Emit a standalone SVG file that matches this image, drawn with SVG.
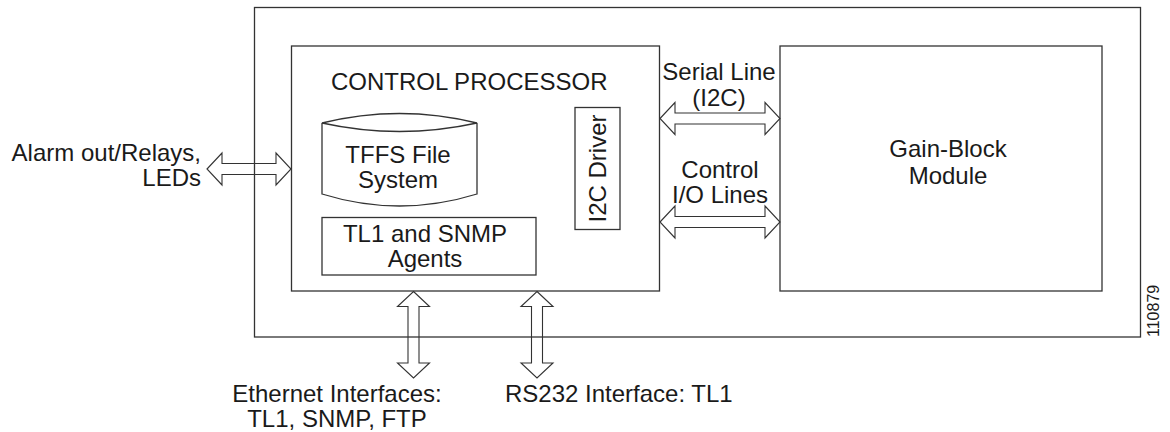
<svg xmlns="http://www.w3.org/2000/svg" width="1170" height="432" viewBox="0 0 1170 432">
<style>
.box{fill:none;stroke:#333;stroke-width:1.3}
.arr{fill:none;stroke:#333;stroke-width:1.1;stroke-linejoin:miter}
.t{font-family:"Liberation Sans",Arial,Helvetica,sans-serif;font-size:24px;fill:#1a1a1a}
.m{text-anchor:middle}
.e{text-anchor:end}
</style>
<rect width="1170" height="432" fill="#fff"/>
<g id="chassis"><rect class="box" x="254.5" y="7.5" width="886" height="329.5"/></g>
<g id="control-processor">
<rect class="box" x="291.5" y="46" width="368" height="245"/>
<text class="t" x="331" y="90">CONTROL PROCESSOR</text>
</g>
<g id="tffs">
<path class="box" d="M322,123 Q399.5,104 477,123 Q399.5,140 322,123 Z M322,123 L322,194 Q399.5,218 477,194 L477,123"/>
<text class="t m" x="398" y="163">TFFS File</text>
<text class="t m" x="398" y="188">System</text>
</g>
<g id="agents">
<rect class="box" x="322" y="217.5" width="214" height="57.5"/>
<text class="t m" x="425" y="242">TL1 and SNMP</text>
<text class="t m" x="425" y="267">Agents</text>
</g>
<g id="i2c-driver">
<rect class="box" x="575" y="107.5" width="45" height="122"/>
<text class="t m" transform="translate(606,168.5) rotate(-90)">I2C Driver</text>
</g>
<g id="gain-block">
<rect class="box" x="780" y="46" width="322" height="245"/>
<text class="t m" x="948" y="157">Gain-Block</text>
<text class="t m" x="948" y="184">Module</text>
</g>
<g id="connectors">
<polygon class="arr" points="207,169 222,153 222,163.5 276,163.5 276,153 291,169 276,185 276,174.5 222,174.5 222,185"/>
<polygon class="arr" points="660,118.5 675,102.5 675,113 765,113 765,102.5 780,118.5 765,134.5 765,124 675,124 675,134.5"/>
<polygon class="arr" points="660,222 675,206 675,216.5 765,216.5 765,206 780,222 765,238 765,227.5 675,227.5 675,238"/>
<polygon class="arr" points="413.5,291.5 429.5,306.5 419,306.5 419,363 429.5,363 413.5,378 397.5,363 408,363 408,306.5 397.5,306.5"/>
<polygon class="arr" points="537,291.5 553,306.5 542.5,306.5 542.5,363 553,363 537,378 521,363 531.5,363 531.5,306.5 521,306.5"/>
</g>
<g id="labels">
<text class="t e" x="201" y="161">Alarm out/Relays,</text>
<text class="t e" x="201" y="186">LEDs</text>
<text class="t m" x="719" y="80">Serial Line</text>
<text class="t m" x="719" y="106">(I2C)</text>
<text class="t m" x="720" y="178">Control</text>
<text class="t m" x="720" y="203">I/O Lines</text>
<text class="t m" x="337" y="402">Ethernet Interfaces:</text>
<text class="t m" x="337" y="427">TL1, SNMP, FTP</text>
<text class="t" x="505" y="402">RS232 Interface: TL1</text>
<text class="t" style="font-size:16px" transform="translate(1159,337) rotate(-90)">110879</text>
</g>
</svg>
